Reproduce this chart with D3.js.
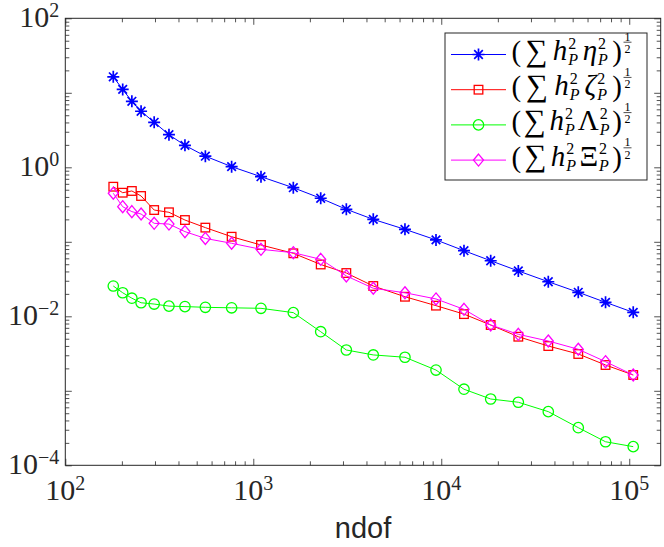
<!DOCTYPE html>
<html>
<head>
<meta charset="utf-8">
<script src="https://cdn.jsdelivr.net/npm/d3@7"></script>
<style>
  body { margin: 0; background: #fff; }
  svg { display: block; }
</style>
</head>
<body>
<svg width="664" height="547"></svg>
<script>
// data
const ndof = [180, 202, 226, 253, 297, 356, 433, 556, 767, 1099, 1633, 2284, 3126, 4348,
              6410, 9376, 13210, 18320, 25700, 37100, 53560, 74800, 105000];
const etaVals = [16.4, 11.1, 7.69, 5.65, 4.02, 2.74, 1.97, 1.41, 1.02, 0.748, 0.532, 0.384,
                 0.273, 0.200, 0.147, 0.106, 0.0760, 0.0557, 0.0406, 0.0291, 0.0210, 0.0154, 0.0113];
const zetaVals = [0.549, 0.456, 0.481, 0.412, 0.267, 0.249, 0.196, 0.155, 0.117, 0.0906, 0.0701,
                  0.0496, 0.0381, 0.0255, 0.0183, 0.0139, 0.0107, 0.00764, 0.00532, 0.00399,
                  0.00312, 0.00222, 0.00163];
const lambdaVals = [0.0255, 0.0207, 0.0175, 0.0152, 0.0146, 0.0137, 0.0135, 0.0132, 0.0130,
                    0.0128, 0.0112, 0.00621, 0.00353, 0.00303, 0.00282, 0.00190, 0.00105,
                    0.000776, 0.000702, 0.000525, 0.000320, 0.000207, 0.000178];
const xiVals = [0.448, 0.296, 0.254, 0.236, 0.177, 0.173, 0.137, 0.111, 0.0955, 0.0793, 0.0714,
                0.0582, 0.0348, 0.0238, 0.0207, 0.0171, 0.0124, 0.00764, 0.00573, 0.00466,
                0.00361, 0.00246, 0.00163];
const seriesNames = ["\u03B7", "\u03B6", "\u039B", "\u039E"];
const xTickExps = [2, 3, 4, 5];
const yTickExps = [2, 0, -2, -4];
const xLabel = "ndof";

const serif = "'Liberation Serif', 'DejaVu Serif', serif";
const axisColor = "#262626";

const svg = d3.select("svg");

// plot box
const plotL = 65.3, plotR = 660.7, plotT = 18.3, plotB = 465.3;

const xScale = d3.scaleLog().domain([100, 1.47e5]).range([plotL, plotR]);
const yScale = d3.scaleLog().domain([1e-4, 1e2]).range([plotB, plotT]);

svg.append("rect")
    .attr("x", plotL).attr("y", plotT)
    .attr("width", plotR - plotL).attr("height", plotB - plotT)
    .attr("fill", "#fff");

// minor tick values (2..9 x 10^k inside the domain)
function minorTicks(scale) {
    const [a, b] = scale.domain();
    const out = [];
    for (let k = Math.floor(Math.log10(a)); k <= Math.ceil(Math.log10(b)); k++) {
        for (let m = 2; m <= 9; m++) {
            const v = m * Math.pow(10, k);
            if (v > a && v < b) out.push(v);
        }
    }
    return out;
}
const xMajorAll = d3.range(2, 6).map(e => Math.pow(10, e));
const yMajorAll = d3.range(-4, 3).map(e => Math.pow(10, e));

function styleAxis(g) {
    g.select(".domain").remove();
    g.selectAll("line").attr("stroke", axisColor).attr("stroke-width", 0.8);
    g.selectAll("text").remove();
}

// inward ticks on all four sides
[[d3.axisBottom, plotB], [d3.axisTop, plotT]].forEach(([ax, y0]) => {
    svg.append("g").attr("transform", `translate(0,${y0})`)
        .call(ax(xScale).tickValues(xMajorAll).tickSize(-6.5).tickFormat(""))
        .call(styleAxis);
    svg.append("g").attr("transform", `translate(0,${y0})`)
        .call(ax(xScale).tickValues(minorTicks(xScale)).tickSize(-4).tickFormat(""))
        .call(styleAxis);
});
[[d3.axisLeft, plotL], [d3.axisRight, plotR]].forEach(([ax, x0]) => {
    svg.append("g").attr("transform", `translate(${x0},0)`)
        .call(ax(yScale).tickValues(yMajorAll).tickSize(-6.5).tickFormat(""))
        .call(styleAxis);
    svg.append("g").attr("transform", `translate(${x0},0)`)
        .call(ax(yScale).tickValues(minorTicks(yScale)).tickSize(-4).tickFormat(""))
        .call(styleAxis);
});

svg.append("rect")
    .attr("x", plotL).attr("y", plotT)
    .attr("width", plotR - plotL).attr("height", plotB - plotT)
    .attr("fill", "none").attr("stroke", axisColor).attr("stroke-width", 1);

// tick labels 10^k
function powLabel(x, y, exp, anchor) {
    const t = svg.append("text")
        .attr("x", x).attr("y", y)
        .attr("text-anchor", anchor)
        .style("font-family", serif)
        .style("font-size", "30px")
        .attr("fill", axisColor);
    t.append("tspan").text("10");
    t.append("tspan").attr("dy", -10).style("font-size", "20px")
        .text(String(exp).replace("-", "\u2212"));
}
xTickExps.forEach(e => powLabel(xScale(Math.pow(10, e)), plotB + 35, e, "middle"));
yTickExps.forEach(e => powLabel(plotL - 6, yScale(Math.pow(10, e)) + 9, e, "end"));

svg.append("text")
    .attr("x", (plotL + plotR) / 2).attr("y", 538)
    .attr("text-anchor", "middle")
    .style("font-family", "'Liberation Sans', Arial, sans-serif")
    .style("font-size", "29px")
    .attr("fill", axisColor)
    .text(xLabel);

// markers
function drawMarker(g, type, color, x, y) {
    if (type === "star") {
        const s = 6, d = 4.3;
        g.append("path")
            .attr("d", `M${x - s},${y}H${x + s}M${x},${y - s}V${y + s}M${x - d},${y - d}L${x + d},${y + d}M${x - d},${y + d}L${x + d},${y - d}`)
            .attr("stroke", color).attr("stroke-width", 1.7).attr("fill", "none");
    } else if (type === "square") {
        g.append("rect").attr("x", x - 4.3).attr("y", y - 4.3).attr("width", 8.6).attr("height", 8.6)
            .attr("stroke", color).attr("stroke-width", 1.3).attr("fill", "none");
    } else if (type === "circle") {
        g.append("circle").attr("cx", x).attr("cy", y).attr("r", 5.2)
            .attr("stroke", color).attr("stroke-width", 1.3).attr("fill", "none");
    } else if (type === "diamond") {
        g.append("path")
            .attr("d", `M${x},${y - 6}L${x + 5},${y}L${x},${y + 6}L${x - 5},${y}Z`)
            .attr("stroke", color).attr("stroke-width", 1.3).attr("fill", "none");
    }
}

const series = [
    { vals: etaVals, color: "#0000ff", marker: "star" },
    { vals: zetaVals, color: "#ff0000", marker: "square" },
    { vals: lambdaVals, color: "#00ff00", marker: "circle" },
    { vals: xiVals, color: "#ff00ff", marker: "diamond" }
];

const line = d3.line().x(d => xScale(d[0])).y(d => yScale(d[1]));

series.forEach(s => {
    const pts = ndof.map((n, i) => [n, s.vals[i]]);
    const g = svg.append("g");
    g.append("path").attr("d", line(pts))
        .attr("fill", "none").attr("stroke", s.color).attr("stroke-width", 1);
    pts.forEach(p => drawMarker(g, s.marker, s.color, xScale(p[0]), yScale(p[1])));
});

// legend
const lx = 445, ly = 33, lw = 202, lh = 147;
const leg = svg.append("g");
leg.append("rect").attr("x", lx).attr("y", ly).attr("width", lw).attr("height", lh)
    .attr("fill", "#fff").attr("stroke", axisColor).attr("stroke-width", 1);

// one <text> per entry, pieces placed as tspans with absolute x/y;
// gaps are stretched so the entry ends at endX
function mathText(g, x, y, pieces, endX) {
    function place(extra) {
        g.selectAll("*").remove();
        const t = g.append("text").style("font-family", serif).attr("fill", "#000");
        let cx = x, lastX = x;
        pieces.forEach(p => {
            const px = p.stack ? lastX : cx + (p.dx || 0) + (p.gap ? extra : 0);
            const ts = t.append("tspan")
                .attr("x", px).attr("y", y + (p.dy || 0))
                .style("font-size", p.size + "px")
                .style("font-style", p.it ? "italic" : "normal")
                .text(p.t);
            const w = ts.node().getComputedTextLength();
            if (p.stack) cx = Math.max(cx, px + w);
            else { lastX = px; cx = px + w; }
        });
        return cx;
    }
    const nGaps = pieces.filter(p => p.gap).length;
    const natural = place(0);
    return place(Math.max(0, (endX - natural) / nGaps));
}

series.forEach((s, i) => {
    const cy = 54.5 + i * 35.2;
    leg.append("line").attr("x1", 451).attr("x2", 506).attr("y1", cy).attr("y2", cy)
        .attr("stroke", s.color).attr("stroke-width", 1);
    drawMarker(leg, s.marker, s.color, 478.5, cy);

    const base = cy + 5.5;
    const greekItalic = i < 2;
    const end = mathText(leg.append("g"), 511.5, base, [
        { t: "(", size: 29, dy: 1 },
        { t: "\u2211", size: 31, dx: 0.5, dy: 0.5, gap: true },
        { t: "h", size: 29, it: true, dx: 2, gap: true },
        { t: "2", size: 16, dy: -11.5, dx: 1 },
        { t: "P", size: 16, it: true, dy: 5, stack: true },
        { t: seriesNames[i], size: 29, it: greekItalic, dx: 1, gap: true },
        { t: "2", size: 16, dy: -11.5, dx: 1 },
        { t: "P", size: 16, it: true, dy: 5, stack: true },
        { t: ")", size: 29, dx: 1, dy: 1, gap: true }
    ], 622);
    // exponent 1/2 as a small stacked fraction
    const fx = end + 5.5;
    const ft = leg.append("text").style("font-family", serif).style("font-size", "12px")
        .attr("text-anchor", "middle").attr("fill", "#000");
    ft.append("tspan").attr("x", fx).attr("y", base - 19.5).text("1");
    ft.append("tspan").attr("x", fx).attr("y", base - 7).text("2");
    leg.append("line").attr("x1", fx - 4).attr("x2", fx + 4)
        .attr("y1", base - 17.8).attr("y2", base - 17.8)
        .attr("stroke", "#000").attr("stroke-width", 0.7);
});
</script>
</body>
</html>
